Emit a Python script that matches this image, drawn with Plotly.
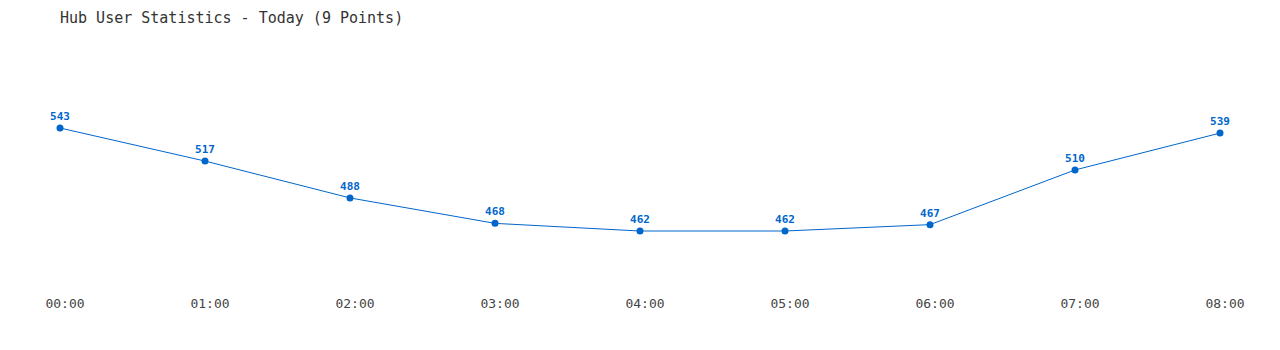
import plotly.graph_objects as go

times = ["00:00", "01:00", "02:00", "03:00", "04:00", "05:00", "06:00", "07:00", "08:00"]
users = [543, 517, 488, 468, 462, 462, 467, 510, 539]

fig = go.Figure()
fig.add_trace(go.Scatter(
    x=list(range(len(times))), y=users,
    mode="lines+markers+text",
    line=dict(color="#0066cc", width=1),
    marker=dict(color="#0066cc", size=7),
    text=[str(v) for v in users],
    textposition="top center",
    textfont=dict(family="DejaVu Sans Mono", size=11, color="#0066cc", weight="bold"),
    cliponaxis=False,
    hoverinfo="skip",
))

fig.update_layout(
    width=1280, height=350,
    margin=dict(l=60, r=60, t=40, b=60),
    paper_bgcolor="white", plot_bgcolor="white",
    showlegend=False,
    title=dict(text="Hub User Statistics - Today (9 Points)", x=60/1280, xanchor="left",
               y=1 - 18/350, yanchor="middle",
               font=dict(family="DejaVu Sans Mono", size=15, color="#333333")),
    xaxis=dict(range=[0, 8], tickvals=list(range(len(times))), ticktext=times,
               showgrid=False, zeroline=False, showline=False, ticks="",
               tickfont=dict(family="DejaVu Sans Mono", size=13, color="#444444"),
               ticklabelshift=5, ticklabelstandoff=4),
    yaxis=dict(range=[415.6, 612.2], visible=False, showgrid=False, zeroline=False),
)

fig.write_html("out.html")
